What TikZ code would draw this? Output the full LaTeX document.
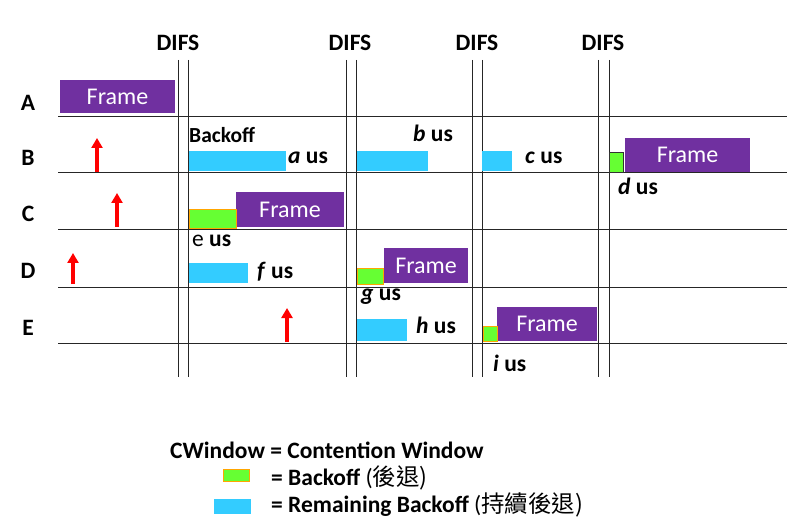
\documentclass[tikz,border=0pt]{standalone}
\usepackage{fontspec}
\setmainfont{Carlito}
\newfontfamily\cjk{Noto Sans CJK TC}
\usetikzlibrary{shapes,arrows.meta}
\definecolor{framepurple}{RGB}{112,48,160}
\definecolor{remaincyan}{RGB}{51,204,255}
\definecolor{backoffgreen}{RGB}{102,255,51}
\tikzstyle{framebox} = [rectangle, fill=framepurple, text=white, inner sep=0pt,
font=\fontsize{24}{24}\selectfont]
\tikzstyle{remain} = [rectangle, fill=remaincyan, inner sep=0pt, anchor=north west]
\tikzstyle{backoff} = [rectangle, fill=backoffgreen, draw=orange!70!yellow, line width=0.6pt,
inner sep=0pt, anchor=north west]
\tikzstyle{timeline} = [draw, line width=1pt, black!85]
\tikzstyle{sendarrow} = [draw, red, line width=3.2pt, -{Triangle[width=11pt,length=10pt]}]
\tikzstyle{lbl} = [font=\fontsize{23.5}{23.5}\selectfont\bfseries, inner sep=0pt]

\begin{document}
\begin{tikzpicture}[x=1pt, y=-1pt]
	\useasboundingbox (0,0) rectangle (800,529);
	% Grid
	\foreach \y in {117,173,230,287,343}
		\draw[timeline] (58,\y) -- (787,\y);
	\foreach \x in {178,188,346,356,472,482,598,609}
		\draw[timeline] (\x,60) -- (\x,377);
	% DIFS labels
	\node [lbl] (difs1) at (178,43) {DIFS};
	\node [lbl] (difs2) at (350,43) {DIFS};
	\node [lbl] (difs3) at (477,43) {DIFS};
	\node [lbl] (difs4) at (603,43) {DIFS};
	% Stations
	\node [lbl] (staA) at (28,103) {A};
	\node [lbl] (staB) at (28,158) {B};
	\node [lbl] (staC) at (28,214) {C};
	\node [lbl] (staD) at (28,271) {D};
	\node [lbl] (staE) at (28,328) {E};
	% Frames
	\node [framebox, minimum width=115pt, minimum height=33pt] (frameA) at (117.5,96.5) {Frame};
	\node [framebox, minimum width=125pt, minimum height=34pt] (frameB) at (687.5,155) {Frame};
	\node [framebox, minimum width=108pt, minimum height=35pt] (frameC) at (290,209.5) {Frame};
	\node [framebox, minimum width=84pt, minimum height=35pt] (frameD) at (426,265.5) {Frame};
	\node [framebox, minimum width=100pt, minimum height=34pt] (frameE) at (547,324) {Frame};
	% Remaining backoff
	\node [remain, minimum width=97pt, minimum height=20pt] (remB1) at (189,151) {};
	\node [remain, minimum width=71pt, minimum height=20pt] (remB2) at (357,151) {};
	\node [remain, minimum width=30pt, minimum height=20pt] (remB3) at (482,151) {};
	\node [remain, minimum width=59pt, minimum height=20pt] (remD) at (189,263) {};
	\node [remain, minimum width=50pt, minimum height=22pt] (remE) at (357,319) {};
	% Backoff
	\node [backoff, draw=black!80, minimum width=14pt, minimum height=20pt] (boB) at (609,152) {};
	\node [backoff, minimum width=47pt, minimum height=19pt] (boC) at (189,209) {};
	\node [backoff, minimum width=26pt, minimum height=16pt] (boD) at (357,268) {};
	\node [backoff, minimum width=14pt, minimum height=15pt] (boE) at (483,326) {};
	% Times
	\node [lbl, font=\fontsize{21.5}{21.5}\selectfont\bfseries, anchor=west] (bkoff) at (189,135) {Backoff};
	\node [lbl, anchor=west] (tA) at (288,158) {\textit{a} us};
	\node [lbl, anchor=west] (tB) at (413,133) {\textit{b} us};
	\node [lbl, anchor=west] (tC) at (525,158) {\textit{c} us};
	\node [lbl, anchor=west] (tD) at (618,186) {\textit{d} us};
	\node [lbl, anchor=west] (tE) at (192,241) {{\mdseries e} us};
	\node [lbl, anchor=west] (tF) at (257,272) {\textit{f} us};
	\node [lbl, anchor=west] (tG) at (361,297) {\textit{g} us};
	\node [lbl, anchor=west] (tH) at (416,325) {\textit{h} us};
	\node [lbl, anchor=west] (tI) at (493,363) {\textit{i} us};
	% Arrivals
	\foreach \n/\x/\ya/\yb in {B/97/172/138, C/117/227/193, D/73/284/253, E/287/342/308}{
		\coordinate (arr\n0) at (\x,\ya);
		\coordinate (arr\n1) at (\x,\yb);
		\draw[sendarrow] (arr\n0) -- (arr\n1);
	}
	% Legend
	\node [lbl, anchor=west] (cwin) at (170,450) {CWindow = Contention Window};
	\node [backoff, anchor=center, minimum width=26pt, minimum height=12pt] (keyBo) at (236,475) {};
	\node [lbl, anchor=west] (keyBoTxt) at (271,478) {= Backoff {\mdseries(\cjk 後退)}};
	\node [remain, anchor=center, minimum width=37pt, minimum height=15pt] (keyRem) at (232.5,506.5) {};
	\node [lbl, anchor=west] (keyRemTxt) at (271,505) {= Remaining Backoff {\mdseries(\cjk 持續後退)}};
\end{tikzpicture}
\end{document}
